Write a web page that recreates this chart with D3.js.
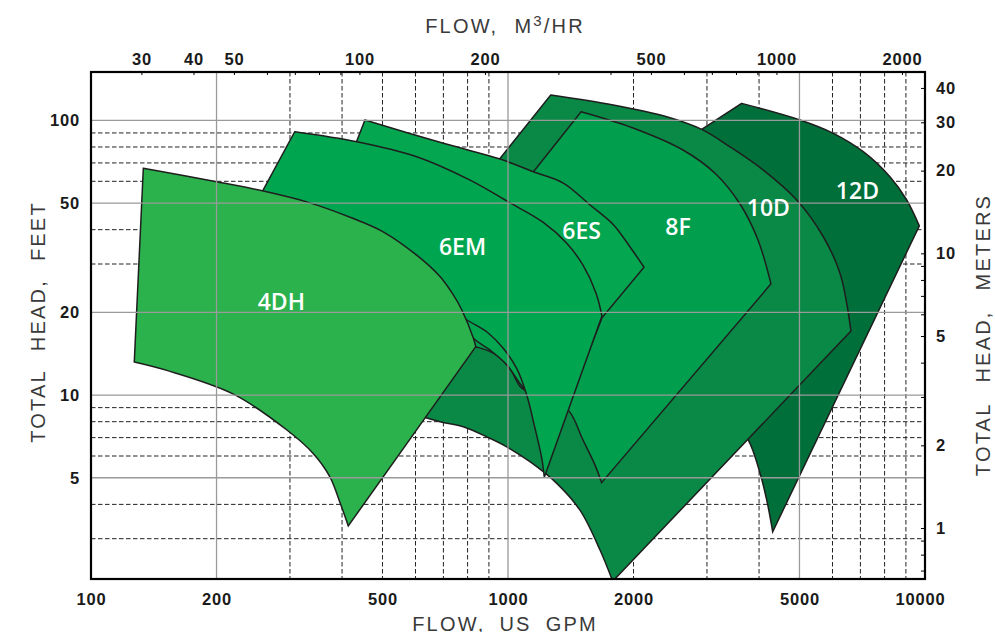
<!DOCTYPE html>
<html lang="en">
<head>
<meta charset="UTF-8">
<title>Pump coverage chart</title>
<script src="https://d3js.org/d3.v7.min.js"></script>
<style>
  body { margin: 0; background: #fff; }
  svg { display: block; }
  .tick text { font-family: "Liberation Sans", Arial, sans-serif; font-weight: bold; font-size: 16.5px; letter-spacing: 0.8px; fill: #1a1a1a; }
  .title { font-family: "Liberation Sans", Arial, sans-serif; font-size: 20px; letter-spacing: 2.2px; fill: #3a3a3a; }
  .pump { font-family: "Open Sans", sans-serif; font-size: 23px; font-weight: 600; fill: #fff; }
</style>
</head>
<body>
<div id="chart"></div>
<script>
// pumps, back to front
var names = ["12D", "10D", "8F", "6ES", "6EM", "4DH"];
var fills = ["#006f3a", "#0a8846", "#009e4d", "#04a64f", "#00a64f", "#2bb24c"];

// max impeller curves [US GPM, feet], left to right
var max12D = [[3634,115.3],[5015,100.3],[6028,89.7],[7112,76.9],[8241,62.3],[9040,51.3],[9690,41.3]];
var max10D = [[1266,123.6],[1788,113.7],[2402,103.1],[2914,92.7],[3406,80.1],[4095,65.9],[4925,51.3],[5703,37.7],[6256,27.7],[6645,17.1]];
var max8F  = [[1497,107.5],[1994,93.8],[2628,78.0],[3154,63.7],[3601,49.6],[3977,36.7],[4272,25.4]];
var max6ES = [[454,100.3],[700,82.5],[957,72.3],[1150,65.0],[1357,59.1],[1573,49.2],[1785,41.9],[1962,34.6],[2119,29.2]];
var max6EM = [[308,90.9],[434,83.6],[604,73.7],[811,60.6],[1002,50.5],[1213,42.6],[1383,35.7],[1513,29.7],[1626,23.5],[1680,19.4]];
var max4DH = [[133.5,66.9],[200,59.8],[259,55.3],[329,50.5],[418,44.4],[502,39.3],[604,32.3],[687,27.0],[740,23.1],[775,20.4],[826,16.1],[837,15.0]];

// min impeller curves, left to right, last point is the lower tip
var min12D = [[1597,51.2],[2072,22.2],[2732,12.1],[3314,8.82],[3770,6.86],[4022,5.19],[4173,4.15],[4313,3.18]];
var min10D = [[359,11.3],[467,9.6],[582,8.6],[687,8.0],[781,7.67],[905,6.96],[993,6.48],[1129,5.72],[1309,4.77],[1488,3.81],[1662,2.73],[1783,2.1]];
var min8F  = [[574,17.2],[706,15.9],[837,15.0],[922,14.2],[1011,12.5],[1079,10.6],[1247,9.92],[1401,8.74],[1513,6.86],[1617,5.56],[1677,4.80]];
var min6ES = [[374,47.2],[551,30.5],[706,22.2],[826,16.1],[905,14.6],[993,12.9],[1069,11.0],[1161,9.43],[1275,6.58]];
var min6EM = [[240,45.2],[354,36.7],[551,28.0],[687,22.9],[789,19.0],[889,17.0],[974,14.8],[1049,12.5],[1109,10.0],[1161,7.56],[1205,5.88],[1222,5.02]];
var min4DH = [[127,13.2],[152,12.3],[219,10.1],[295,7.46],[341,6.13],[374,5.04],[396,4.04],[414,3.34]];

// extra corners on the right edge between max curve end and tip
var edge6ES = [[1680,19.1]];

// where each name sits [GPM, feet]
var labelAt = [[6887,51.7],[4210,44.8],[2557,38.2],[1502,36.9],[778,32.3],[286,20.4]];

// grid and ticks
var gpmSolid = [200, 1000, 5000];
var gpmDash = [300,400,500,600,700,800,900,2000,3000,4000,6000,7000,8000,9000];
var ftSolid = [5, 10, 20, 50, 100];
var ftDash = [3,4,6,7,8,9,30,40,60,70,80,90];
var gpmLabels = [100, 200, 500, 1000, 2000, 5000, 10000];
var ftLabels = [5, 10, 20, 50, 100];
var m3Ticks = [30,40,50,60,70,80,90,100,200,300,400,500,600,700,800,900,1000,2000];
var m3Labels = [30, 40, 50, 100, 200, 500, 1000, 2000];
var mTicks = [0.7,0.8,0.9,1,2,3,4,5,6,7,8,9,10,20,30,40];
var mLabels = [1, 2, 5, 10, 20, 30, 40];

var pumps = names.map(function(n, i){
  return {
    name: n, fill: fills[i], label: labelAt[i],
    max: [max12D, max10D, max8F, max6ES, max6EM, max4DH][i],
    min: [min12D, min10D, min8F, min6ES, min6EM, min4DH][i],
    edge: n == "6ES" ? edge6ES : []
  };
});

var W = 995, H = 632;
var plotL = 91, plotR = 925, plotT = 72, plotB = 579;
var GPM_PER_M3HR = 4.4029, FT_PER_M = 3.2808;

var x = d3.scaleLog().domain([100, 10000]).range([plotL, plotR]);
var y = d3.scaleLog().domain([2.14, 150]).range([plotB, plotT]);
var xm = d3.scaleLog().domain([100 / GPM_PER_M3HR, 10000 / GPM_PER_M3HR]).range([plotL, plotR]);
var ym = d3.scaleLog().domain([2.14 / FT_PER_M, 150 / FT_PER_M]).range([plotB, plotT]);

var svg = d3.select("#chart").append("svg").attr("width", W).attr("height", H);

svg.append("clipPath").attr("id", "plot")
  .append("rect").attr("x", plotL).attr("y", plotT).attr("width", plotR - plotL).attr("height", plotB - plotT);

var plot = svg.append("g").attr("clip-path", "url(#plot)");

// dashed grid under the shapes
var dash = plot.append("g").attr("stroke", "#222").attr("stroke-width", 1).attr("stroke-dasharray", "4.5,2.5");
dash.selectAll("line.v").data(gpmDash).enter().append("line")
  .attr("x1", x).attr("x2", x).attr("y1", plotT).attr("y2", plotB);
dash.selectAll("line.h").data(ftDash).enter().append("line")
  .attr("y1", y).attr("y2", y).attr("x1", plotL).attr("x2", plotR);

// pump areas
var smooth = d3.line().x(function(d){ return x(d[0]); }).y(function(d){ return y(d[1]); })
  .curve(d3.curveCatmullRom.alpha(0.5));

function outline(p){
  var topPath = smooth(p.max);
  var mid = p.edge.map(function(d){ return "L" + x(d[0]) + "," + y(d[1]); }).join("");
  var bot = smooth(p.min.slice().reverse());
  return topPath + mid + "L" + bot.slice(1) + "Z";
}

plot.selectAll("path.pump-area").data(pumps).enter().append("path")
  .attr("class", "pump-area")
  .attr("d", outline)
  .attr("fill", function(d){ return d.fill; })
  .attr("stroke", "#1e1e1e")
  .attr("stroke-width", 1.5)
  .attr("stroke-linejoin", "miter");

// solid grid over the shapes
var solid = plot.append("g").attr("stroke", "#9a9a9a").attr("stroke-width", 1.3);
solid.selectAll("line.v").data(gpmSolid).enter().append("line")
  .attr("x1", x).attr("x2", x).attr("y1", plotT).attr("y2", plotB);
solid.selectAll("line.h").data(ftSolid).enter().append("line")
  .attr("y1", y).attr("y2", y).attr("x1", plotL).attr("x2", plotR);

// names
svg.selectAll("text.pump").data(pumps).enter().append("text")
  .attr("class", "pump")
  .attr("x", function(d){ return x(d.label[0]); })
  .attr("y", function(d){ return y(d.label[1]); })
  .attr("text-anchor", "middle")
  .text(function(d){ return d.name; });

// frame
svg.append("rect").attr("x", plotL).attr("y", plotT).attr("width", plotR - plotL).attr("height", plotB - plotT)
  .attr("fill", "none").attr("stroke", "#000").attr("stroke-width", 2.2);

// axes
var gB = svg.append("g").attr("transform", "translate(0," + plotB + ")")
  .call(d3.axisBottom(x).tickValues(gpmLabels).tickSize(0).tickPadding(14).tickFormat(function(d){ return d; }));
gB.select(".domain").remove();
gB.selectAll("text").filter(function(d){ return d == 10000; }).attr("dx", -5);

var gL = svg.append("g").attr("transform", "translate(" + plotL + ",0)")
  .call(d3.axisLeft(y).tickValues(ftLabels).tickSize(0).tickPadding(11).tickFormat(function(d){ return d; }));
gL.select(".domain").remove();

var gT = svg.append("g").attr("transform", "translate(0," + plotT + ")")
  .call(d3.axisTop(xm).tickValues(m3Ticks).tickSize(-3).tickPadding(7)
    .tickFormat(function(d){ return m3Labels.indexOf(d) >= 0 ? d : ""; }));
gT.select(".domain").remove();

var gR = svg.append("g").attr("transform", "translate(" + plotR + ",0)")
  .call(d3.axisRight(ym).tickValues(mTicks).tickSize(-4).tickPadding(11)
    .tickFormat(function(d){ return mLabels.indexOf(d) >= 0 ? d : ""; }));
gR.select(".domain").remove();

// titles
var tTop = svg.append("text").attr("class", "title").attr("x", 505).attr("y", 33).attr("text-anchor", "middle");
tTop.append("tspan").text("FLOW,");
tTop.append("tspan").attr("dx", 16).text("M");
tTop.append("tspan").attr("dy", -7).style("font-size", "15px").text("3");
tTop.append("tspan").attr("dy", 7).text("/HR");

var tBot = svg.append("text").attr("class", "title").attr("x", 505).attr("y", 631).attr("text-anchor", "middle");
tBot.append("tspan").text("FLOW,");
tBot.append("tspan").attr("dx", 14).text("US");
tBot.append("tspan").attr("dx", 14).text("GPM");

var tLeft = svg.append("text").attr("class", "title").attr("text-anchor", "middle")
  .attr("transform", "translate(45,322) rotate(-90)");
tLeft.append("tspan").text("TOTAL");
tLeft.append("tspan").attr("dx", 18).text("HEAD,");
tLeft.append("tspan").attr("dx", 18).text("FEET");

var tRight = svg.append("text").attr("class", "title").attr("text-anchor", "middle")
  .attr("transform", "translate(990,335) rotate(-90)");
tRight.append("tspan").text("TOTAL");
tRight.append("tspan").attr("dx", 20).text("HEAD,");
tRight.append("tspan").attr("dx", 20).text("METERS");
</script>
</body>
</html>
